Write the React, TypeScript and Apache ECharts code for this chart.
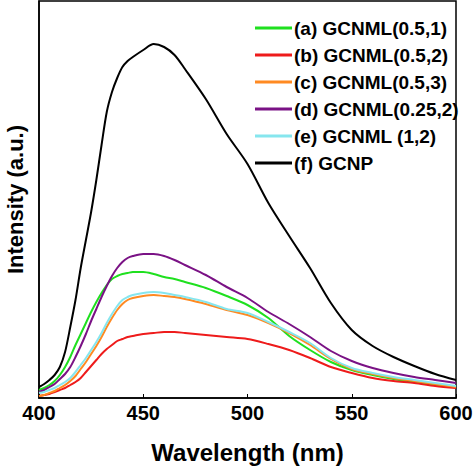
import React, { useEffect, useRef } from "react";
import * as echarts from "echarts";

const wavelengths = [400, 402.5, 405, 407.5, 410, 412.5, 415, 417.5, 420, 422.5, 425, 427.5, 430, 432.5, 435, 437.5, 440, 442.5, 445, 450, 455, 460, 465, 470, 480, 490, 500, 510, 520, 530, 540, 550, 560, 570, 580, 590, 600];

const seriesNames = ["(a) GCNML(0.5,1)", "(b) GCNML(0.5,2)", "(c) GCNML(0.5,3)", "(d) GCNML(0.25,2)", "(e) GCNML (1,2)", "(f) GCNP"];
const seriesColors = ["#1fe01f", "#ee1b1b", "#ff8a22", "#7a1285", "#86e6ee", "#000000"];

const gcnml_05_1 = [8, 10, 13, 17, 23, 31, 41, 53, 64, 75, 86, 96, 105, 113, 119, 122, 124, 125, 126, 126, 124, 121, 119, 116, 110, 102, 93, 80, 62, 48, 36, 28, 23, 19, 16, 13, 11];
const gcnml_05_2 = [2, 3, 4, 6, 8, 10, 13, 16, 20, 26, 32, 38, 44, 49, 53, 57, 59, 61, 62, 64, 65, 66, 66, 65, 63, 61, 59, 54, 48, 40, 31, 25, 20, 17, 15, 12, 10];
const gcnml_05_3 = [2, 3, 5, 7, 10, 13, 17, 22, 29, 36, 44, 52, 61, 71, 80, 88, 94, 98, 100, 102, 103, 102, 101, 99, 94, 88, 83, 75, 65, 53, 39, 29, 24, 20, 17, 14, 11];
const gcnml_025_2 = [6, 8, 11, 14, 19, 24, 31, 41, 52, 64, 77, 89, 101, 112, 122, 130, 136, 140, 142, 144, 144, 142, 138, 133, 123, 111, 100, 86, 74, 61, 47, 37, 30, 25, 21, 18, 15];
const gcnml_1_2 = [5, 6, 8, 10, 13, 16, 20, 26, 33, 40, 48, 56, 65, 75, 84, 92, 98, 101, 103, 105, 106, 105, 103, 101, 96, 89, 85, 76, 66, 55, 40, 30, 25, 21, 18, 15, 12];
const gcnp = [11, 14, 18, 23, 31, 46, 71, 98, 130, 158, 186, 218, 253, 286, 306, 320, 331, 337, 341, 348, 354, 351, 343, 329, 299, 264, 234, 195, 162, 130, 95, 68, 52, 41, 32, 24, 18];

const allValues = [gcnml_05_1, gcnml_05_2, gcnml_05_3, gcnml_025_2, gcnml_1_2, gcnp];

const FONT = "'Liberation Sans', Arial, sans-serif";

export default function App() {
  const ref = useRef<HTMLDivElement>(null);
  useEffect(() => {
    if (!ref.current) return;
    const chart = echarts.init(ref.current, null, { renderer: "svg" });
    chart.setOption({
      animation: false,
      backgroundColor: "#ffffff",
      grid: {
        left: 39,
        right: 18,
        top: 1,
        bottom: 70,
        containLabel: false,
        outerBoundsMode: "none",
        show: true,
        borderColor: "#000",
        borderWidth: 1.5,
      },
      legend: {
        orient: "vertical",
        left: 250,
        top: 13,
        itemWidth: 37,
        itemHeight: 3,
        itemGap: 7,
        icon: "rect",
        textStyle: {
          fontFamily: FONT,
          fontWeight: "bold",
          fontSize: 19,
          color: "#000",
          lineHeight: 20,
          padding: [0, 0, 0, -3],
        },
        data: seriesNames,
      },
      xAxis: {
        type: "value",
        min: 400,
        max: 600,
        interval: 50,
        name: "Wavelength (nm)",
        nameLocation: "middle",
        nameGap: 42,
        nameTextStyle: { fontFamily: FONT, fontWeight: "bold", fontSize: 24, color: "#000" },
        axisLine: { show: true, lineStyle: { color: "#000", width: 1.5 } },
        axisTick: { show: true, inside: true, length: 4, lineStyle: { color: "#000" } },
        axisLabel: { fontFamily: FONT, fontWeight: "bold", fontSize: 20, color: "#000", margin: 5 },
        splitLine: { show: false },
      },
      yAxis: {
        type: "value",
        min: 0,
        max: 397,
        name: "Intensity (a.u.)",
        nameLocation: "middle",
        nameGap: 13,
        nameTextStyle: { fontFamily: FONT, fontWeight: "bold", fontSize: 22, color: "#000", lineHeight: 22 },
        axisLine: { show: true, lineStyle: { color: "#000", width: 1.5 } },
        axisTick: { show: false },
        axisLabel: { show: false },
        splitLine: { show: false },
      },
      series: seriesNames.map((name, i) => ({
        name,
        type: "line",
        data: wavelengths.map((w, j) => [w, allValues[i][j]]),
        smooth: 0.3,
        showSymbol: false,
        symbol: "none",
        color: seriesColors[i],
        lineStyle: { width: 2, color: seriesColors[i] },
        z: i === 5 ? 3 : 2,
      })),
    });
    return () => chart.dispose();
  }, []);
  return <div ref={ref} style={{ width: 474, height: 468, position: "absolute", left: 0, top: 0 }} />;
}
